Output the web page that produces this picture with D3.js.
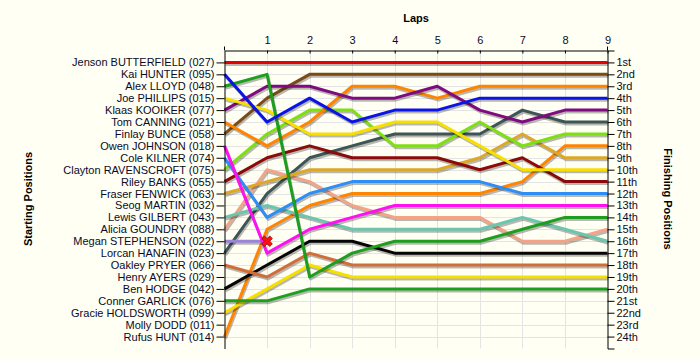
<!DOCTYPE html>
<html>
<head>
<meta charset="utf-8">
<script src="https://cdn.jsdelivr.net/npm/d3@7"></script>
<style>
  html, body { margin: 0; padding: 0; background: #fffff4; }
  svg { display: block; }
  text { font-family: "Liberation Sans", Arial, sans-serif; }
</style>
</head>
<body>
<svg id="chart" width="700" height="360"></svg>
<script>
// ---- data ----
const laps = [0, 1, 2, 3, 4, 5, 6, 7, 8, 9];
const lapTicks = [1, 2, 3, 4, 5, 6, 7, 8, 9];
const drivers = [
  "Jenson BUTTERFIELD (027)", "Kai HUNTER (095)", "Alex LLOYD (048)", "Joe PHILLIPS (015)",
  "Klaas KOOIKER (077)", "Tom CANNING (021)", "Finlay BUNCE (058)", "Owen JOHNSON (018)",
  "Cole KILNER (074)", "Clayton RAVENSCROFT (075)", "Riley BANKS (055)", "Fraser FENWICK (063)",
  "Seog MARTIN (032)", "Lewis GILBERT (043)", "Alicia GOUNDRY (088)", "Megan STEPHENSON (022)",
  "Lorcan HANAFIN (023)", "Oakley PRYER (066)", "Henry AYERS (029)", "Ben HODGE (042)",
  "Conner GARLICK (076)", "Gracie HOLDSWORTH (099)", "Molly DODD (011)", "Rufus HUNT (014)"
];
const finishLabels = ["1st","2nd","3rd","4th","5th","6th","7th","8th","9th","10th","11th","12th",
  "13th","14th","15th","16th","17th","18th","19th","20th","21st","22nd","23rd","24th"];
// position of each driver at laps 0..9 (null = not running)
const racePositions = [
  [1, 1, 1, 1, 1, 1, 1, 1, 1, 1],
  [2, 6, 4, 6, 5, 5, 4, 4, 4, 4],
  [3, 2, 19, 17, 16, 16, 16, 15, 14, 14],
  [4, 5, 7, 7, 6, 6, 8, 10, 10, 10],
  [5, 3, 3, 4, 4, 3, 5, 6, 5, 5],
  [6, 8, 6, 3, 3, 4, 3, 3, 3, 3],
  [7, 4, 2, 2, 2, 2, 2, 2, 2, 2],
  [8, 17, 15, 14, 13, 13, 13, 13, 13, 13],
  [9, 14, 12, 11, 11, 11, 11, 12, 12, 12],
  [10, 7, 5, 5, 8, 8, 6, 8, 7, 7],
  [11, 9, 8, 9, 9, 9, 10, 9, 11, 11],
  [12, 11, 10, 10, 10, 10, 9, 7, 9, 9],
  [],
  [14, 13, 14, 15, 15, 15, 15, 14, 15, 16],
  [15, 10, 11, 13, 14, 14, 14, 16, 16, 15],
  [16, 16],
  [17, 12, 9, 8, 7, 7, 7, 5, 6, 6],
  [18, 19, 17, 18, 18, 18, 18, 18, 18, 18],
  [],
  [20, 18, 16, 16, 17, 17, 17, 17, 17, 17],
  [21, 21, 20, 20, 20, 20, 20, 20, 20, 20],
  [22, 20, 18, 19, 19, 19, 19, 19, 19, 19],
  [],
  [24, 15, 13, 12, 12, 12, 12, 11, 8, 8]
];
// retirements: driver index, lap
const retirements = [[15, 1]];
const lineColors = [
  "#e60000", "#0a14e6", "#1e9e1e", "#f7e000", "#800a80", "#ff8400", "#7a4b16", "#ff10f0",
  "#2e8ef5", "#7ee012", "#8b0a0a", "#dca82a", "#999999", "#6cc6ae", "#f4a486", "#9a84d6",
  "#3d5555", "#d06e3a", "#999999", "#050505", "#1ea01e", "#f7e000", "#999999", "#ff8400"
];

// ---- chart ----
const svg = d3.select("#chart");
const x = d3.scaleLinear().domain([0, 9]).range([224.5, 607.5]);
const y = d3.scaleLinear().domain([0, 25]).range([50.5, 348.5]);

// grid
const grid = svg.append("g");
grid.selectAll("line.h").data(d3.range(1, 25)).join("line")
  .attr("x1", x(0)).attr("x2", x(9))
  .attr("y1", d => Math.round(y(d)) + 0.5).attr("y2", d => Math.round(y(d)) + 0.5)
  .attr("stroke", "#e4e4e4").attr("stroke-width", 1);
grid.selectAll("line.v").data(lapTicks.slice(0, -1)).join("line")
  .attr("x1", d => Math.round(x(d)) + 0.5).attr("x2", d => Math.round(x(d)) + 0.5)
  .attr("y1", y(0)).attr("y2", y(25))
  .attr("stroke", "#e4e4e4").attr("stroke-width", 1);

// lines
const line = d3.line()
  .defined(d => d != null)
  .x((d, i) => x(laps[i]))
  .y(d => y(d));

const series = racePositions.map((p, i) => ({ i, p })).filter(s => s.p.length > 0);
const lg = svg.append("g");
series.slice().reverse().forEach(s => {
  lg.append("path").attr("d", line(s.p))
    .attr("fill", "none").attr("stroke", "#000").attr("stroke-opacity", 0.28)
    .attr("stroke-width", 3).attr("stroke-linejoin", "round")
    .attr("transform", "translate(1,2)");
  lg.append("path").attr("d", line(s.p))
    .attr("fill", "none").attr("stroke", lineColors[s.i])
    .attr("stroke-width", 3).attr("stroke-linejoin", "round");
});

// retirement markers
retirements.forEach(([di, lap]) => {
  const pos = racePositions[di][lap];
  svg.append("path")
    .attr("d", d3.symbol().type(d3.symbolCross).size(70)())
    .attr("transform", `translate(${x(lap)},${y(pos)}) rotate(45)`)
    .attr("fill", "#ff1010").attr("stroke", "#8a1010").attr("stroke-width", 0.8);
});

// axes
const fontSize = "11px";
const leftAxis = svg.append("g").attr("transform", `translate(${x(0)},0)`)
  .call(d3.axisLeft(y).tickValues(d3.range(1, 25)).tickFormat(d => drivers[d - 1])
    .tickSizeInner(8).tickSizeOuter(0).tickPadding(2));
const rightAxis = svg.append("g").attr("transform", `translate(${x(9)},0)`)
  .call(d3.axisRight(y).tickValues(d3.range(1, 25)).tickFormat(d => finishLabels[d - 1])
    .tickSizeInner(7).tickSizeOuter(7).tickPadding(2));
const topAxis = svg.append("g").attr("transform", `translate(0,${y(0)})`)
  .call(d3.axisTop(x).tickValues(lapTicks).tickSizeInner(-3).tickSizeOuter(0).tickPadding(7));

[leftAxis, rightAxis, topAxis].forEach(g => {
  g.selectAll("text").attr("font-size", fontSize).attr("fill", "#0a0a28")
    .attr("font-family", "'Liberation Sans', Arial, sans-serif");
  g.selectAll("path.domain, line").attr("stroke", "#000");
});
// extend left axis slightly above top
svg.append("line").attr("x1", x(0)).attr("x2", x(0)).attr("y1", y(0) - 4).attr("y2", y(0))
  .attr("stroke", "#000");
svg.append("line").attr("x1", x(9)).attr("x2", x(9)).attr("y1", y(0) - 4).attr("y2", y(0))
  .attr("stroke", "#000");

// titles
svg.append("text").attr("x", 416).attr("y", 22).attr("text-anchor", "middle")
  .attr("font-size", "11px").attr("font-weight", "bold").attr("fill", "#000").text("Laps");
svg.append("text").attr("transform", "translate(32,199) rotate(-90)").attr("text-anchor", "middle")
  .attr("font-size", "11px").attr("font-weight", "bold").attr("fill", "#000").text("Starting Positions");
svg.append("text").attr("transform", "translate(664,199) rotate(90)").attr("text-anchor", "middle")
  .attr("font-size", "11px").attr("font-weight", "bold").attr("fill", "#000").text("Finishing Positions");
</script>
</body>
</html>
